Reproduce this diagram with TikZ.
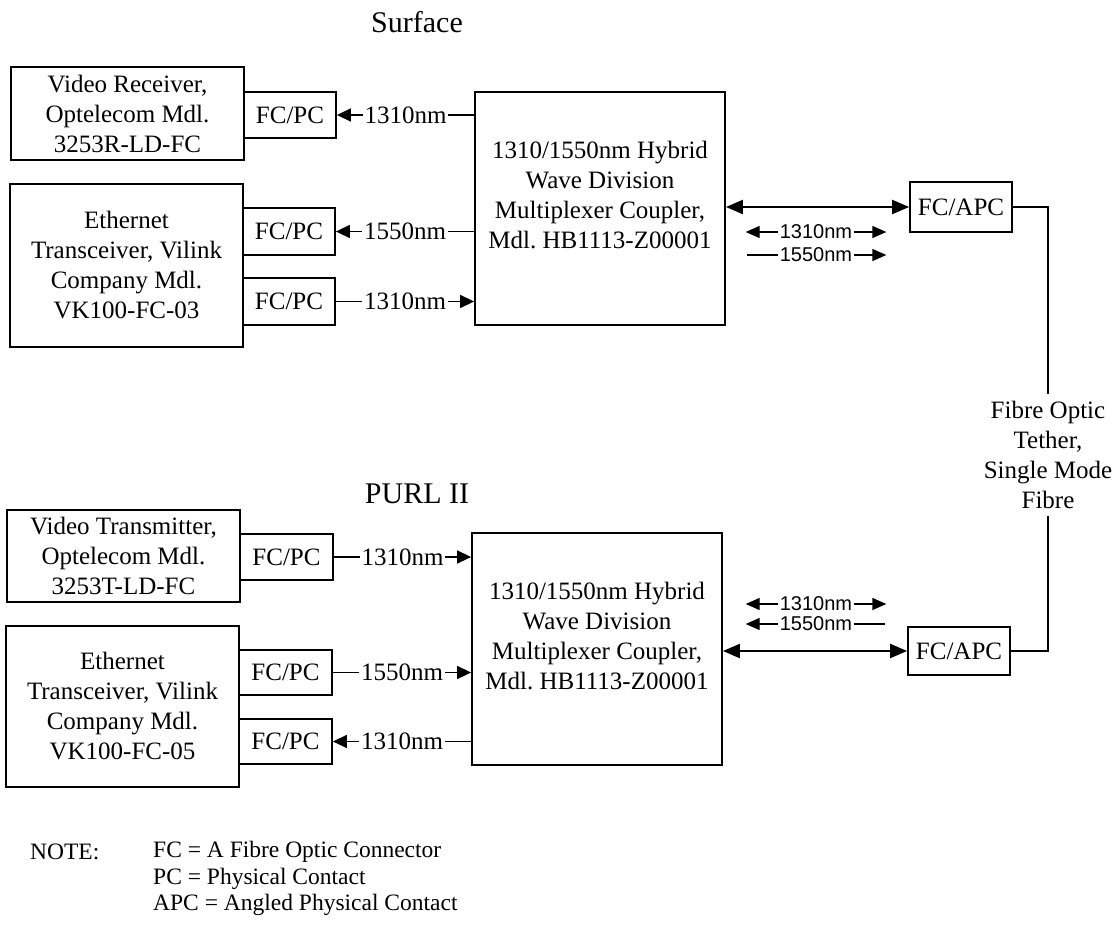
\documentclass[tikz,border=0pt]{standalone}
\usepackage{fontspec}
\setmainfont{Liberation Serif}
\newfontfamily\lsans{Liberation Sans}
\usetikzlibrary{arrows.meta}
\frenchspacing
\begin{document}
\begin{tikzpicture}[x=1pt,y=-1pt,
  box/.style={draw, line width=1.8pt, inner sep=0pt, align=center, font=\fontsize{25}{30}\selectfont},
  conn/.style={line width=1.5pt},
  ctip/.style={-{Triangle[length=14pt,width=13pt]}},
  rtip/.style={{Triangle[length=14pt,width=13pt]}-},
  mainarrow/.style={line width=2.2pt, {Triangle[length=17pt,width=14pt]}-{Triangle[length=17pt,width=14pt]}},
  lab/.style={fill=white, inner sep=2pt, font=\fontsize{25}{30}\selectfont},
  slab/.style={inner sep=2pt, font=\lsans\fontsize{20}{24}\selectfont},
  sline/.style={line width=1.3pt},
  stip/.style={line width=1.3pt, -{Triangle[length=14pt,width=12pt]}},
  title/.style={font=\fontsize{30}{36}\selectfont},
  note/.style={font=\fontsize{23.5}{26.5}\selectfont, align=left, inner sep=0pt},
  tether/.style={line width=1.1pt}]
\useasboundingbox (0,0) rectangle (1118,926);
% titles
\node[title] (surf) at (417,22) {Surface};
\node[title] (purl) at (417,494) {PURL II};
% ---------- Surface ----------
\node[box, minimum width=233pt, minimum height=93pt] (vr) at (127.5,113.5) {Video Receiver,\\Optelecom Mdl.\\3253R-LD-FC};
\node[box, minimum width=92pt, minimum height=46pt] (fc1) at (290,115) {FC/PC};
\node[box, minimum width=233pt, minimum height=163pt] (eth1) at (126.5,265.5) {Ethernet\\Transceiver, Vilink\\Company Mdl.\\VK100-FC-03};
\node[box, minimum width=92pt, minimum height=47pt] (fc2) at (289,231.5) {FC/PC};
\node[box, minimum width=92pt, minimum height=47pt] (fc3) at (289,301.5) {FC/PC};
\node[box, minimum width=250pt, minimum height=233pt,
  label={[name=cpl1t, box, draw=none, yshift=13pt]center:{1310/1550nm Hybrid\\Wave Division\\Multiplexer Coupler,\\Mdl. HB1113-Z00001}}] (cpl1) at (600,208.5) {};
\node[box, minimum width=102pt, minimum height=50pt] (apc1) at (961,207) {FC/APC};

\draw[conn, rtip] (fc1.east) -- (fc1.east -| cpl1.west) node[lab, midway] (l1) {1310nm};
\draw[conn, rtip] (fc2.east) -- (fc2.east -| cpl1.west) node[lab, midway] (l2) {1550nm};
\draw[conn, ctip] (fc3.east) -- (fc3.east -| cpl1.west) node[lab, midway] (l3) {1310nm};
\draw[mainarrow] (cpl1.east |- apc1.west) -- (apc1.west);

\node[slab] (s1) at (816,232) {1310nm};
\node[slab] (s2) at (816,255) {1550nm};
\draw[stip] (s1.west) -- ++(-32,0);
\draw[stip] (s1.east) -- ++(32,0);
\draw[sline] (s2.west) -- ++(-31,0);
\draw[stip] (s2.east) -- ++(32,0);

% ---------- PURL II ----------
\node[box, minimum width=233pt, minimum height=92pt] (vt) at (123.5,556) {Video Transmitter,\\Optelecom Mdl.\\3253T-LD-FC};
\node[box, minimum width=93pt, minimum height=46pt] (fc4) at (286.5,557) {FC/PC};
\node[box, minimum width=233pt, minimum height=161pt] (eth2) at (122.5,706.5) {Ethernet\\Transceiver, Vilink\\Company Mdl.\\VK100-FC-05};
\node[box, minimum width=93pt, minimum height=45pt] (fc5) at (285.5,672.5) {FC/PC};
\node[box, minimum width=93pt, minimum height=45pt] (fc6) at (285.5,741.5) {FC/PC};
\node[box, minimum width=250pt, minimum height=232pt,
  label={[name=cpl2t, box, draw=none, yshift=13pt]center:{1310/1550nm Hybrid\\Wave Division\\Multiplexer Coupler,\\Mdl. HB1113-Z00001}}] (cpl2) at (597,649) {};
\node[box, minimum width=102pt, minimum height=48pt] (apc2) at (959,651) {FC/APC};

\draw[conn, ctip] (fc4.east) -- (fc4.east -| cpl2.west) node[lab, midway] (l4) {1310nm};
\draw[conn, ctip] (fc5.east) -- (fc5.east -| cpl2.west) node[lab, midway] (l5) {1550nm};
\draw[conn, rtip] (fc6.east) -- (fc6.east -| cpl2.west) node[lab, midway] (l6) {1310nm};
\draw[mainarrow] (cpl2.east |- apc2.west) -- (apc2.west);

\node[slab] (s3) at (816,604) {1310nm};
\node[slab] (s4) at (816,624) {1550nm};
\draw[stip] (s3.west) -- ++(-32,0);
\draw[stip] (s3.east) -- ++(32,0);
\draw[stip] (s4.west) -- ++(-32,0);
\draw[sline] (s4.east) -- ++(31,0);

% ---------- tether ----------
\node[box, draw=none, inner sep=6pt] (teth) at (1048,455) {Fibre Optic\\Tether,\\Single Mode\\Fibre};
\draw[tether] (apc1.east) -| (teth.north);
\draw[tether] (teth.south) |- (apc2.east);

% ---------- note ----------
\node[note, anchor=west] (notel) at (30,852) {NOTE:};
\node[note, anchor=west] (notet) at (153,878.5) {FC = A Fibre Optic Connector\\PC = Physical Contact\\APC = Angled Physical Contact};
\end{tikzpicture}
\end{document}
